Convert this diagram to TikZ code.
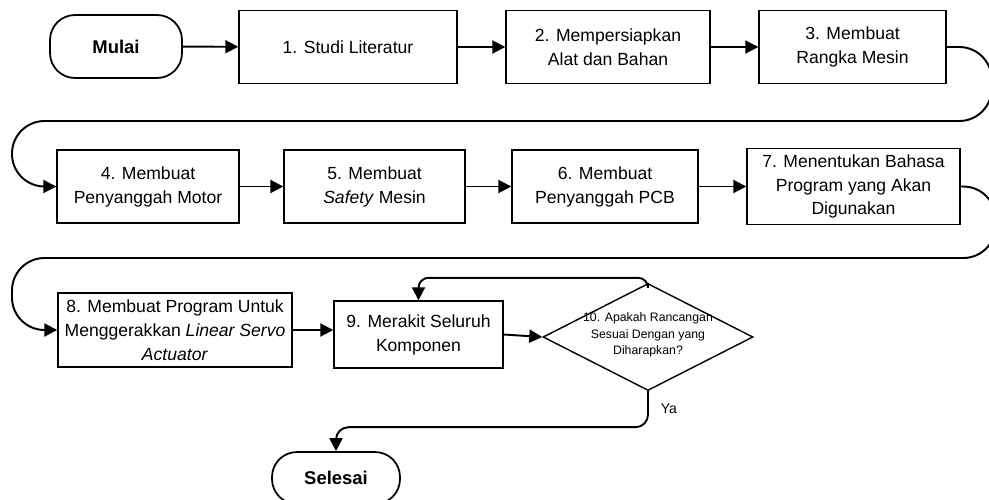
\documentclass[tikz,border=0pt]{standalone}
\usepackage{fontspec}
\setmainfont{Liberation Sans}
\usetikzlibrary{arrows.meta,shapes.geometric}

\begin{document}
\begin{tikzpicture}[
        box/.style={draw,line width=0.8pt,minimum height=1.46cm,align=center,font=\fontsize{10}{13.6}\selectfont},
        term/.style={draw,line width=1pt,rounded corners=0.5cm,font=\fontsize{10.5}{12}\selectfont\bfseries},
        decision/.style={draw,diamond,line width=0.8pt,minimum width=4.2cm,minimum height=2.14cm,inner sep=0pt},
        arrow/.style={line width=1.1pt,-{Triangle[length=2.6mm,width=2.6mm]}}]

    \useasboundingbox (0,0) rectangle (19.78,-9.98);

    % first row
    \node[term,minimum width=2.64cm,minimum height=1.26cm] (mulai) at (2.32,-0.93) {Mulai};
    \node[box,minimum width=4.36cm] (b1) at (6.96,-0.94) {1. Studi Literatur};
    \node[box,minimum width=4.08cm] (b2) at (12.16,-0.94) {2. Mempersiapkan\\Alat dan Bahan};
    \node[box,minimum width=3.74cm] (b3) at (17.05,-0.94) {3. Membuat\\Rangka Mesin};

    % second row
    \node[box,minimum width=3.64cm] (b4) at (2.96,-3.73) {4. Membuat\\Penyanggah Motor};
    \node[box,minimum width=3.62cm] (b5) at (7.49,-3.73) {5. Membuat\\\textit{Safety} Mesin};
    \node[box,minimum width=3.72cm] (b6) at (12.1,-3.73) {6. Membuat\\Penyanggah PCB};
    \node[box,minimum width=4.26cm,minimum height=1.5cm] (b7) at (17.07,-3.73) {7. Menentukan Bahasa\\Program yang Akan\\Digunakan};

    % third row
    \node[box,minimum width=4.68cm,minimum height=1.48cm] (b8) at (3.5,-6.6) {8. Membuat Program Untuk\\Menggerakkan \textit{Linear Servo}\\\textit{Actuator}};
    \node[box,minimum width=3.38cm,minimum height=1.34cm] (b9) at (8.37,-6.69) {9. Merakit Seluruh\\Komponen};
    \node[decision] (dec) at (12.96,-6.74) {};
    \node[align=center,font=\fontsize{7}{9.4}\selectfont] (dectext) at (12.96,-6.7) {10. Apakah Rancangan\\Sesuai Dengan yang\\Diharapkan?};
    \node[term,minimum width=2.56cm,minimum height=1.04cm] (selesai) at (6.72,-9.56) {Selesai};

    \draw[arrow] (mulai) -- (b1);
    \draw[arrow] (b1) -- (b2);
    \draw[arrow] (b2) -- (b3);
    \draw[arrow,rounded corners=0.65cm] (b3.east) -- ++(0.9,0) |- (0.24,-2.42) |- (b4.west);
    \draw[arrow] (b4) -- (b5);
    \draw[arrow] (b5) -- (b6);
    \draw[arrow] (b6) -- (b7);
    \draw[arrow,rounded corners=0.65cm] (b7.east) -- ++(0.7,0) |- (0.24,-5.16) |- (b8.west);
    \draw[arrow] (b8.east) -- (b8.east -| b9.west);
    \draw[arrow] (b9.east) -- (dec.west);
    \draw[arrow,rounded corners=0.2cm] (dec.north) -- ++(0,0.1) -| (b9.north); % loop back
    \draw[arrow,rounded corners=0.25cm] (dec.south)
        -- node[anchor=west,xshift=0.12cm,font=\fontsize{8}{10}\selectfont] (ya) {Ya} ++(0,-0.72)
        -| (selesai.north);
\end{tikzpicture}
\end{document}
